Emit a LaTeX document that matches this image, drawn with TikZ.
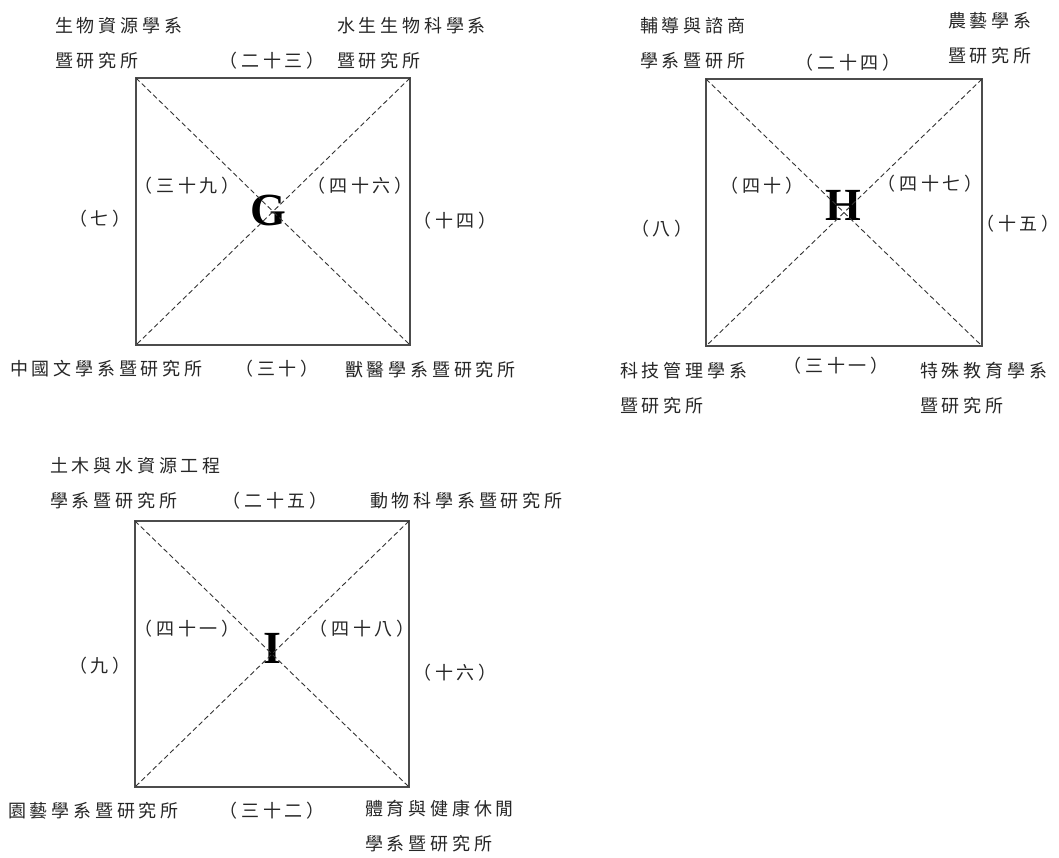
\documentclass[tikz,border=0pt]{standalone}
\usepackage{fontspec}
\newfontfamily\cjk[LetterSpace=21]{Noto Sans CJK TC}
\newfontfamily\bigserif{Liberation Serif}

\tikzset{
  dept/.style={inner sep=0pt, anchor=base west, align=left, text=black!85,
    font=\cjk\fontsize{18}{35}\selectfont},
  num/.style={inner sep=0pt, anchor=base, text=black!85,
    font=\cjk\fontsize{18}{20}\selectfont},
  zone/.style={line width=1.7pt, draw=black!70},
  cross/.style={line width=0.9pt, draw=black!80, dash pattern=on 5pt off 3pt},
  zonename/.style={inner sep=0pt, font=\bigserif\bfseries\fontsize{46}{46}\selectfont}
}

\begin{document}
\begin{tikzpicture}[x=1pt,y=-1pt]
\useasboundingbox (0,0) rectangle (1059,857);

% =========================
% G
% =========================
\coordinate (g1) at (136,78);
\coordinate (g2) at (410,78);
\coordinate (g3) at (410,345);
\coordinate (g4) at (136,345);

\node[zonename] (G) at (268,210) {G};

% square and diagonals
\draw[zone] (g1) -- (g2) -- (g3) -- (g4) -- cycle;
\draw[cross] (g1) -- (g3);
\draw[cross] (g2) -- (g4);

% departments (base = last line)
\node[dept] (gtl) at (55,67) {生物資源學系\\暨研究所};
\node[dept] (gtr) at (337,67) {水生生物科學系\\暨研究所};
\node[dept] (gbl) at (10,375) {中國文學系暨研究所};
\node[dept] (gbr) at (345,376) {獸醫學系暨研究所};

% numbers
\node[num] (gtop) at (272,67) {（二十三）};
\node[num] (gbot) at (277,375) {（三十）};
\node[num] (gleft) at (100,225) {（七）};
\node[num] (gright) at (455,227) {（十四）};
\node[num] (gin1) at (187,192) {（三十九）};
\node[num] (gin2) at (360,192) {（四十六）};

% =========================
% H
% =========================
\coordinate (h1) at (706,79);
\coordinate (h2) at (982,79);
\coordinate (h3) at (982,346);
\coordinate (h4) at (706,346);

\node[zonename] (H) at (843,205) {H};

% square and diagonals
\draw[zone] (h1) -- (h2) -- (h3) -- (h4) -- cycle;
\draw[cross] (h1) -- (h3);
\draw[cross] (h2) -- (h4);

% departments (base = last line)
\node[dept] (htl) at (640,67) {輔導與諮商\\學系暨研所};
\node[dept] (htr) at (948,62) {農藝學系\\暨研究所};
\node[dept] (hbl) at (620,412) {科技管理學系\\暨研究所};
\node[dept] (hbr) at (920,412) {特殊教育學系\\暨研究所};

% numbers
\node[num] (htop) at (848,69) {（二十四）};
\node[num] (hbot) at (836,372) {（三十一）};
\node[num] (hleft) at (662,235) {（八）};
\node[num] (hright) at (1018,230) {（十五）};
\node[num] (hin1) at (762,192) {（四十）};
\node[num] (hin2) at (930,190) {（四十七）};

% =========================
% I
% =========================
\coordinate (i1) at (135,521);
\coordinate (i2) at (409,521);
\coordinate (i3) at (409,787);
\coordinate (i4) at (135,787);

\node[zonename] (I) at (272,648) {I};

% square and diagonals
\draw[zone] (i1) -- (i2) -- (i3) -- (i4) -- cycle;
\draw[cross] (i1) -- (i3);
\draw[cross] (i2) -- (i4);

% departments (base = last line)
\node[dept] (itl) at (50,507) {土木與水資源工程\\學系暨研究所};
\node[dept] (itr) at (370,507) {動物科學系暨研究所};
\node[dept] (ibl) at (8,817) {園藝學系暨研究所};
\node[dept] (ibr) at (365,850) {體育與健康休閒\\學系暨研究所};

% numbers
\node[num] (itop) at (275,507) {（二十五）};
\node[num] (ibot) at (272,817) {（三十二）};
\node[num] (ileft) at (100,672) {（九）};
\node[num] (iright) at (455,679) {（十六）};
\node[num] (iin1) at (187,635) {（四十一）};
\node[num] (iin2) at (362,635) {（四十八）};

\end{tikzpicture}
\end{document}
